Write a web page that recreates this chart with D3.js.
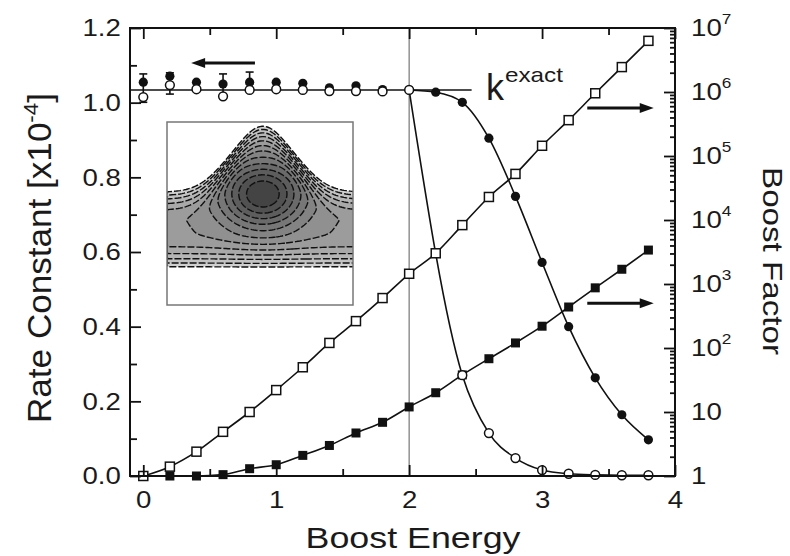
<!DOCTYPE html>
<html>
<head>
<meta charset="utf-8">
<script src="https://cdn.jsdelivr.net/npm/d3@7"></script>
<style>
  body { margin: 0; background: #fff; }
  text { font-family: "Liberation Sans", Arial, sans-serif; fill: #1a1a1a; }
</style>
</head>
<body>
<svg id="chart" width="790" height="556"></svg>
<script>
// boost energy grid
var energy = [0, 0.2, 0.4, 0.6, 0.8, 1.0, 1.2, 1.4, 1.6, 1.8, 2.0, 2.2, 2.4, 2.6, 2.8, 3.0, 3.2, 3.4, 3.6, 3.8];

// rate constants [x10^-4], left axis
var rateOpen = [1.015, 1.047, 1.036, 1.017, 1.034, 1.036, 1.034, 1.031, 1.031, 1.030, 1.034,
  null, 0.27, 0.115, 0.048, 0.016, 0.006, 0.003, 0.002, 0.002];
var rateFilled = [1.055, 1.071, 1.055, 1.050, 1.055, 1.055, 1.052, 1.040, 1.045, 1.035, 1.034,
  1.028, 1.001, 0.905, 0.749, 0.572, 0.400, 0.263, 0.164, 0.097];

// error bars on the low-boost points
var errEnergy = [0, 0.2, 0.6, 0.8];
var errLow = [1.001, 1.023, 1.012, 1.05];
var errHigh = [1.077, 1.08, 1.077, 1.082];

// boost factors, right axis (log)
var boostOpen = [1, 1.4, 2.4, 4.9, 10, 22, 50, 120, 263, 603, 1445, 3020, 8318, 22900, 52500,
  144500, 363000, 955000, 2450000, 6300000];
var boostFilled = [1, 1, 1, 1.05, 1.3, 1.5, 2.1, 3.0, 4.7, 6.9, 12, 20, 38, 68, 120, 219, 437, 871,
  1700, 3390];

var kExact = 1.034;
var kExactSpan = [-0.1, 2.47];

var xTicks = [0, 1, 2, 3, 4];
var xMinor = [0.5, 1.5, 2.5, 3.5];
var yTicks = [0, 0.2, 0.4, 0.6, 0.8, 1.0, 1.2];
var yMinor = [0.1, 0.3, 0.5, 0.7, 0.9, 1.1];
var logTicks = [1, 10, 100, 1e3, 1e4, 1e5, 1e6, 1e7];

var svg = d3.select("#chart");

var x = d3.scaleLinear().domain([-0.1, 4]).range([130, 675]);
var yL = d3.scaleLinear().domain([0, 1.2]).range([476, 28]);
var yR = d3.scaleLog().domain([1, 1e7]).range([476, 28]);

// ---------- inset: contour plot of the potential ----------
var inset = { x: 167, y: 122, w: 186, h: 183 };
var levels = d3.range(12).map(function(i) { return -0.43 + 0.07 * i; });
var vMax = levels[levels.length - 1];
var nx = 94, ny = 92;
var pot = new Array(nx * ny);
for (var j = 0; j < ny; j++) {
  for (var i = 0; i < nx; i++) {
    var u = i / (nx - 1), v = j / (ny - 1);
    var bump = Math.exp(-Math.pow((u - 0.51) / 0.22, 2));
    var above = (0.55 - 0.36 * bump) - v;
    var wallTop = above > 0 ? (vMax / (0.17 * 0.17)) * above * above : 0;
    var below = v - 0.6;
    var wallBot = below > 0 ? (vMax / (0.19 * 0.19)) * below * below : 0;
    var well = -0.5 * Math.exp(-(Math.pow(u - 0.51, 2) / (2 * 0.16 * 0.16) + Math.pow(v - 0.39, 2) / (2 * 0.13 * 0.13)));
    pot[j * nx + i] = wallTop + wallBot + well;
  }
}
// contours of -V give the regions below each level
var contours = d3.contours().size([nx, ny])
  .thresholds(levels.map(function(l) { return -l; }))(pot.map(function(p) { return -p; }));
var gray = d3.scaleLinear().domain([-vMax, 0.43]).range(["#cfcfcf", "#444"]);
var ipath = d3.geoPath(d3.geoIdentity()
  .scale(inset.w / (nx - 1))
  .translate([inset.x, inset.y]));

svg.append("clipPath").attr("id", "insetClip")
  .append("rect").attr("x", inset.x).attr("y", inset.y).attr("width", inset.w).attr("height", inset.h);

var ig = svg.append("g").attr("clip-path", "url(#insetClip)");
ig.selectAll("path.fill").data(contours).enter().append("path")
  .attr("class", "fill")
  .attr("d", ipath)
  .attr("fill", function(c) { return gray(c.value); })
  .attr("stroke", "none");
ig.selectAll("path.line").data(contours).enter().append("path")
  .attr("class", "line")
  .attr("d", ipath)
  .attr("fill", "none")
  .attr("stroke", "#111")
  .attr("stroke-width", 1.4)
  .attr("stroke-dasharray", "7,2");
svg.append("rect")
  .attr("x", inset.x).attr("y", inset.y).attr("width", inset.w).attr("height", inset.h)
  .attr("fill", "none").attr("stroke", "#777").attr("stroke-width", 1.5);

// ---------- reference lines ----------
svg.append("line")
  .attr("x1", x(2)).attr("x2", x(2))
  .attr("y1", yL(0)).attr("y2", yL(1.2))
  .attr("stroke", "#777").attr("stroke-width", 1.2);

svg.append("line")
  .attr("x1", x(kExactSpan[0])).attr("x2", x(kExactSpan[1]))
  .attr("y1", yL(kExact)).attr("y2", yL(kExact))
  .attr("stroke", "#111").attr("stroke-width", 1.6);

// ---------- series ----------
function rows(ys) {
  return energy.map(function(e, i) { return { x: e, y: ys[i] }; })
    .filter(function(d) { return d.y != null; });
}

var lineL = d3.line().x(function(d) { return x(d.x); }).y(function(d) { return yL(d.y); })
  .curve(d3.curveMonotoneX);
var lineR = d3.line().x(function(d) { return x(d.x); }).y(function(d) { return yR(d.y); })
  .curve(d3.curveMonotoneX);

var openRows = rows(rateOpen), filledRows = rows(rateFilled);
var openBoostRows = rows(boostOpen), filledBoostRows = rows(boostFilled);

// rate curves only leave k_exact from E = 2 on
svg.append("path").datum(openRows.filter(function(d) { return d.x >= 2; }))
  .attr("d", lineL).attr("fill", "none").attr("stroke", "#111").attr("stroke-width", 1.6);
svg.append("path").datum(filledRows.filter(function(d) { return d.x >= 2; }))
  .attr("d", lineL).attr("fill", "none").attr("stroke", "#111").attr("stroke-width", 1.6);
svg.append("path").datum(openBoostRows)
  .attr("d", lineR).attr("fill", "none").attr("stroke", "#111").attr("stroke-width", 1.6);
svg.append("path").datum(filledBoostRows)
  .attr("d", lineR).attr("fill", "none").attr("stroke", "#111").attr("stroke-width", 1.6);

// error bars
var eg = svg.append("g").attr("stroke", "#111").attr("stroke-width", 1.6);
errEnergy.forEach(function(e, i) {
  eg.append("line").attr("x1", x(e)).attr("x2", x(e)).attr("y1", yL(errLow[i])).attr("y2", yL(errHigh[i]));
  eg.append("line").attr("x1", x(e) - 4).attr("x2", x(e) + 4).attr("y1", yL(errHigh[i])).attr("y2", yL(errHigh[i]));
  eg.append("line").attr("x1", x(e) - 4).attr("x2", x(e) + 4).attr("y1", yL(errLow[i])).attr("y2", yL(errLow[i]));
});

// markers
svg.append("g").selectAll("rect").data(filledBoostRows).enter().append("rect")
  .attr("x", function(d) { return x(d.x) - 4.5; }).attr("y", function(d) { return yR(d.y) - 4.5; })
  .attr("width", 9).attr("height", 9).attr("fill", "#111");
svg.append("g").selectAll("rect").data(openBoostRows).enter().append("rect")
  .attr("x", function(d) { return x(d.x) - 4.5; }).attr("y", function(d) { return yR(d.y) - 4.5; })
  .attr("width", 9).attr("height", 9).attr("fill", "#fff").attr("stroke", "#111").attr("stroke-width", 1.5);
svg.append("g").selectAll("circle").data(filledRows).enter().append("circle")
  .attr("cx", function(d) { return x(d.x); }).attr("cy", function(d) { return yL(d.y); })
  .attr("r", 4.6).attr("fill", "#111");
svg.append("g").selectAll("circle").data(openRows).enter().append("circle")
  .attr("cx", function(d) { return x(d.x); }).attr("cy", function(d) { return yL(d.y); })
  .attr("r", 4.4).attr("fill", "#fff").attr("stroke", "#111").attr("stroke-width", 1.5);

// ---------- arrows ----------
function arrow(x1, x2, yy) {
  var dir = x2 > x1 ? 1 : -1;
  svg.append("line").attr("x1", x1).attr("x2", x2 - dir * 10).attr("y1", yy).attr("y2", yy)
    .attr("stroke", "#111").attr("stroke-width", 3);
  svg.append("path")
    .attr("d", "M" + x2 + "," + yy + "L" + (x2 - dir * 14) + "," + (yy - 5) + "L" + (x2 - dir * 14) + "," + (yy + 5) + "Z")
    .attr("fill", "#111");
}
arrow(x(0.84), x(0.36), yL(1.106));
arrow(x(3.34), x(3.84), yR(5.6e5));
arrow(x(3.34), x(3.84), yR(500));

// ---------- axes ----------
function styleAxis(g) {
  g.select(".domain").remove();
  g.selectAll(".tick line").attr("stroke", "#111").attr("stroke-width", 1.8);
  g.selectAll("text").attr("font-size", 24).attr("fill", "#1a1a1a")
    .attr("font-family", "'Liberation Sans', Arial, sans-serif");
}

svg.append("g").attr("transform", "translate(0,476)")
  .call(d3.axisBottom(x).tickValues(xTicks).tickSize(-11).tickPadding(15).tickFormat(d3.format("d")))
  .call(styleAxis)
  .selectAll("text").attr("transform", "scale(1.15,1)");
svg.append("g").attr("transform", "translate(0,476)")
  .call(d3.axisBottom(x).tickValues(xMinor).tickSize(-7).tickFormat(""))
  .call(styleAxis);
svg.append("g").attr("transform", "translate(0,28)")
  .call(d3.axisTop(x).tickValues(xTicks).tickSize(-11).tickFormat(""))
  .call(styleAxis);
svg.append("g").attr("transform", "translate(0,28)")
  .call(d3.axisTop(x).tickValues(xMinor).tickSize(-7).tickFormat(""))
  .call(styleAxis);

svg.append("g").attr("transform", "translate(130,0)")
  .call(d3.axisLeft(yL).tickValues(yTicks).tickSize(-11).tickPadding(8).tickFormat(d3.format(".1f")))
  .call(styleAxis)
  .selectAll("text").attr("transform", "scale(1.15,1)");
svg.append("g").attr("transform", "translate(130,0)")
  .call(d3.axisLeft(yL).tickValues(yMinor).tickSize(-7).tickFormat(""))
  .call(styleAxis);

var logMinor = [];
logTicks.slice(0, -1).forEach(function(p) {
  for (var m = 2; m < 10; m++) logMinor.push(p * m);
});
var rAxis = svg.append("g").attr("transform", "translate(675,0)")
  .call(d3.axisRight(yR).tickValues(logTicks).tickSize(-11).tickPadding(14))
  .call(styleAxis);
rAxis.selectAll(".tick text").each(function(d) {
  var t = d3.select(this).text("").attr("transform", "scale(1.15,1)");
  var p = Math.round(Math.log10(d));
  if (p === 0) { t.text("1"); return; }
  t.append("tspan").text("10");
  if (p > 1) t.append("tspan").attr("font-size", 15).attr("dy", -12).text(p);
});
svg.append("g").attr("transform", "translate(675,0)")
  .call(d3.axisRight(yR).tickValues(logMinor).tickSize(-5).tickFormat(""))
  .call(styleAxis);

// frame
svg.append("rect")
  .attr("x", 130).attr("y", 28).attr("width", 545).attr("height", 448)
  .attr("fill", "none").attr("stroke", "#111").attr("stroke-width", 2);

// ---------- labels ----------
svg.append("text")
  .attr("x", 413).attr("y", 548)
  .attr("text-anchor", "middle").attr("font-size", 30)
  .attr("textLength", 215).attr("lengthAdjust", "spacingAndGlyphs")
  .text("Boost Energy");

var lt = svg.append("text")
  .attr("transform", "translate(51,258) rotate(-90)")
  .attr("text-anchor", "middle").attr("font-size", 33)
  .attr("textLength", 330).attr("lengthAdjust", "spacingAndGlyphs");
lt.append("tspan").text("Rate Constant  [x10");
lt.append("tspan").attr("font-size", 21).attr("dy", -13).text("-4");
lt.append("tspan").attr("dy", 13).text("]");

svg.append("text")
  .attr("transform", "translate(763,261) rotate(90)")
  .attr("text-anchor", "middle").attr("font-size", 28)
  .attr("textLength", 188).attr("lengthAdjust", "spacingAndGlyphs")
  .text("Boost Factor");

svg.append("text").attr("x", 486).attr("y", 100).attr("font-size", 36).text("k");
svg.append("text").attr("x", 505).attr("y", 82).attr("font-size", 21)
  .attr("textLength", 58).attr("lengthAdjust", "spacingAndGlyphs").text("exact");
</script>
</body>
</html>
